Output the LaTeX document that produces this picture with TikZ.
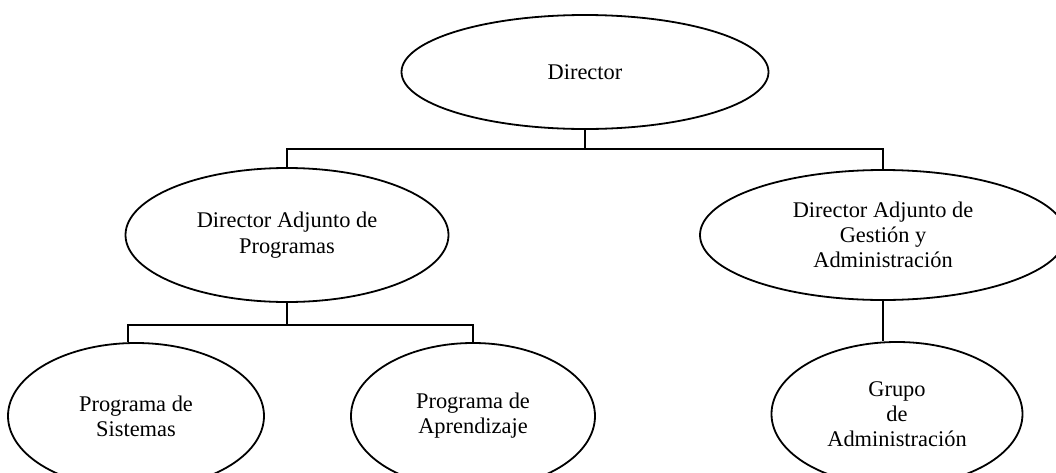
\documentclass[tikz,border=0pt]{standalone}
\usepackage{fontspec}
\setmainfont{Liberation Serif}
\usetikzlibrary{shapes.geometric}
\tikzset{
  unit/.style={draw, ellipse, inner sep=0pt, align=center,
    font=\fontsize{11.2}{12.5}\selectfont}
}
\begin{document}
\begin{tikzpicture}[x=0.5pt,y=-0.5pt,line width=0.9pt]
      \useasboundingbox (0,0) rectangle (1056,472);
      \draw
        (585,72) node[unit,minimum width=183.5pt,minimum height=57pt] (dir){Director}
        (287,235) node[unit,minimum width=161.5pt,minimum height=67pt] (dap){\raisebox{-3pt}{\shortstack{Director Adjunto de\\Programas}}}
        (883,235) node[unit,minimum width=183pt,minimum height=65pt] (dag){Director Adjunto de\\Gesti\'on y\\Administraci\'on}
        (136,416) node[unit,minimum width=128pt,minimum height=73pt] (ps){Programa de\\Sistemas}
        (473,416) node[unit,minimum width=122pt,minimum height=73pt] (pa){Programa de\\Aprendizaje}
        (897,414) node[unit,minimum width=125.5pt,minimum height=72pt] (ga){Grupo\\de\\Administraci\'on};
      \coordinate (bus0) at (585,149);
      \coordinate (bus1) at (287,325);
      \coordinate (sys) at (128,325);
      \begin{scope}[-]
        \draw (dir) to (bus0);
        \draw (dap.north) |- (bus0) -| (dag.north);
        \draw (dap) to (bus1);
        \draw (sys |- ps.north) |- (bus1) -| (pa.north);
        \draw (dag) to (dag |- ga.north);
      \end{scope}
    \end{tikzpicture}
\end{document}
